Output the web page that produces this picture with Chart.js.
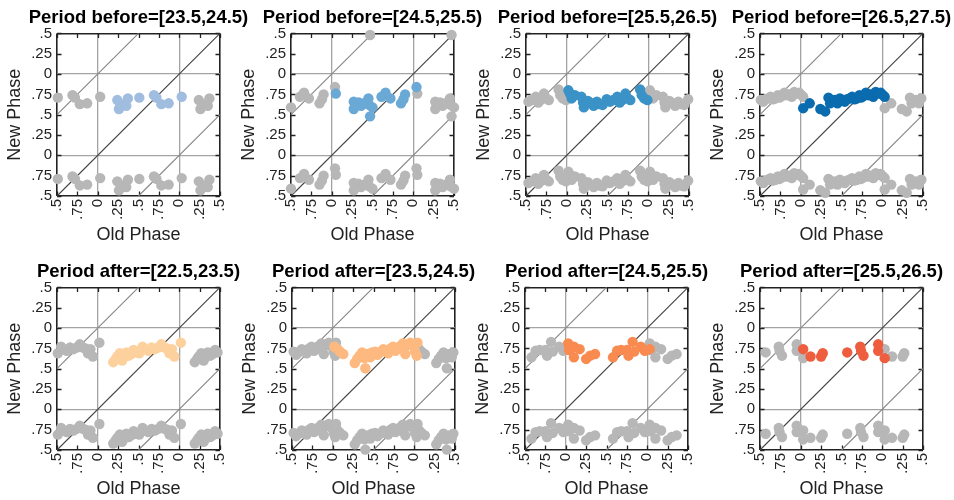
<!DOCTYPE html>
<html>
<head>
<meta charset="utf-8">
<script src="https://cdn.jsdelivr.net/npm/chart.js@4.4.1/dist/chart.umd.min.js"></script>
<style>
html, body { margin: 0; padding: 0; background: #fff; overflow: hidden; width: 954px; height: 500px; }
canvas { position: absolute; }
</style>
</head>
<body>
<script>
// panel titles
const titles = [
  'Period before=[23.5,24.5)', 'Period before=[24.5,25.5)',
  'Period before=[25.5,26.5)', 'Period before=[26.5,27.5)',
  'Period after=[22.5,23.5)', 'Period after=[23.5,24.5)',
  'Period after=[24.5,25.5)', 'Period after=[25.5,26.5)'
];

// [old phase, new phase] for each bin
const before1 = [[0.24,0.68],[0.26,0.57],[0.32,0.63],[0.35,0.61],[0.37,0.70],[0.51,0.71],
  [0.69,0.74],[0.72,0.71],[0.78,0.63],[0.87,0.64],[1.03,0.72]];
const before2 = [[0.05,0.76],[0.27,0.66],[0.27,0.57],[0.33,0.65],[0.36,0.61],[0.40,0.64],
  [0.45,0.70],[0.46,0.62],[0.47,0.48],[0.50,0.59],[0.61,0.72],[0.66,0.77],[0.72,0.70],
  [0.85,0.64],[0.88,0.69],[0.90,0.75],[1.04,0.84]];
const before3 = [[0.02,0.80],[0.04,0.76],[0.06,0.70],[0.10,0.74],[0.18,0.72],[0.20,0.65],
  [0.21,0.59],[0.26,0.67],[0.30,0.64],[0.33,0.61],[0.37,0.66],[0.40,0.63],[0.44,0.62],
  [0.49,0.69],[0.53,0.66],[0.57,0.68],[0.62,0.72],[0.65,0.65],[0.68,0.68],[0.72,0.76],
  [0.75,0.70],[0.78,0.68],[0.90,0.81],[0.92,0.74],[0.95,0.70],[0.99,0.68]];
const before4 = [[0.03,0.58],[0.11,0.64],[0.24,0.57],[0.30,0.54],[0.34,0.71],[0.36,0.64],
  [0.38,0.68],[0.42,0.68],[0.45,0.64],[0.48,0.70],[0.51,0.68],[0.54,0.66],[0.57,0.69],
  [0.60,0.70],[0.63,0.72],[0.66,0.69],[0.69,0.70],[0.72,0.74],[0.74,0.71],[0.77,0.73],
  [0.80,0.77],[0.83,0.74],[0.86,0.75],[0.89,0.72],[0.92,0.78],[0.95,0.76],[0.98,0.77],
  [1.01,0.74],[1.03,0.72]];
const after1 = [[0.19,0.58],[0.22,0.62],[0.24,0.65],[0.27,0.69],[0.30,0.60],[0.32,0.64],
  [0.35,0.70],[0.38,0.66],[0.41,0.68],[0.44,0.73],[0.47,0.70],[0.51,0.69],[0.55,0.77],
  [0.58,0.74],[0.62,0.72],[0.66,0.76],[0.70,0.74],[0.74,0.76],[0.78,0.80],[0.82,0.76],
  [0.85,0.75],[0.88,0.69],[0.91,0.74],[0.94,0.65],[1.02,0.82]];
const after2 = [[0.02,0.77],[0.06,0.74],[0.09,0.71],[0.13,0.68],[0.27,0.57],[0.30,0.62],
  [0.33,0.66],[0.36,0.70],[0.39,0.63],[0.40,0.505],[0.43,0.68],[0.46,0.64],[0.48,0.70],
  [0.52,0.71],[0.55,0.67],[0.58,0.70],[0.62,0.74],[0.65,0.71],[0.68,0.69],[0.71,0.75],
  [0.74,0.77],[0.77,0.72],[0.80,0.74],[0.83,0.78],[0.86,0.81],[0.87,0.75],[0.89,0.68],
  [0.92,0.79],[0.95,0.82],[0.98,0.78],[1.01,0.71],[1.04,0.82],[1.03,0.66]];
const after3 = [[0.03,0.81],[0.04,0.73],[0.10,0.77],[0.10,0.64],[0.17,0.74],[0.25,0.62],
  [0.30,0.66],[0.36,0.68],[0.58,0.64],[0.63,0.72],[0.68,0.73],[0.75,0.73],[0.77,0.66],
  [0.82,0.83],[0.84,0.71],[0.92,0.77],[0.97,0.72],[1.03,0.74]];
const after4 = [[0.03,0.74],[0.12,0.65],[0.25,0.65],[0.27,0.69],[0.57,0.70],[0.73,0.77],
  [0.74,0.72],[0.77,0.66],[0.95,0.80],[0.95,0.72],[1.03,0.63]];

const panels = [before1, before2, before3, before4, after1, after2, after3, after4];
const colors = ['#a0bde0', '#6aa9d6', '#3a92c6', '#0a6cae', '#fdd19e', '#fdb97f', '#f98a50', '#ee5e3e'];
const greyCol = '#b7b7b7';

// phase axis: -0.5 .. 1.5, labelled modulo 1
const phaseTicks = ['.5', '.75', '0', '.25', '.5', '.75', '0', '.25', '.5'];
const phaseMin = -0.5, phaseMax = 1.5;

const lefts = [0, 234, 469, 703, 0, 235, 468, 703];
const tops = [0, 0, 0, 0, 254, 254, 254, 254];
const FONT = "'Liberation Sans', Arial, sans-serif";

// wrapped copies of the points (shifted by one period), drawn in grey
function wrapped(pts) {
  const out = [];
  [-1, 0, 1].forEach(dx => [-1, 0, 1].forEach(dy => {
    if (dx === 0 && dy === 0) return;
    pts.forEach(p => {
      const x = p[0] + dx, y = p[1] + dy;
      if (x >= phaseMin - 0.002 && x <= phaseMax + 0.002 && y >= phaseMin - 0.002 && y <= phaseMax + 0.002)
        out.push({x: x, y: y});
    });
  }));
  return out;
}

function diag(off, col) {
  const x0 = Math.max(phaseMin, phaseMin - off), x1 = Math.min(phaseMax, phaseMax - off);
  return {
    type: 'line', data: [{x: x0, y: x0 + off}, {x: x1, y: x1 + off}],
    borderColor: col, borderWidth: 1.1, pointRadius: 0, fill: false, clip: false
  };
}

const inwardTicks = {
  id: 'inwardTicks',
  beforeDatasetsDraw(chart) {
    const {ctx, chartArea: a, scales} = chart;
    const len = 4.5;
    ctx.save();
    ctx.strokeStyle = '#222';
    ctx.lineWidth = 1.3;
    ctx.beginPath();
    scales.x.ticks.forEach(t => {
      const px = Math.round(scales.x.getPixelForValue(t.value)) + 0.5;
      ctx.moveTo(px, a.bottom); ctx.lineTo(px, a.bottom - len);
      ctx.moveTo(px, a.top); ctx.lineTo(px, a.top + len);
    });
    scales.y.ticks.forEach(t => {
      const py = Math.round(scales.y.getPixelForValue(t.value)) + 0.5;
      ctx.moveTo(a.left, py); ctx.lineTo(a.left + len, py);
      ctx.moveTo(a.right, py); ctx.lineTo(a.right - len, py);
    });
    ctx.stroke();
    ctx.restore();
  }
};

function gridColor(c) {
  const v = c.tick ? c.tick.value : 0;
  if (Math.abs(v - phaseMin) < 1e-6 || Math.abs(v - phaseMax) < 1e-6) return '#222';
  if (Math.abs(v) < 1e-6 || Math.abs(v - 1) < 1e-6) return '#a3a3a3';
  return 'rgba(0,0,0,0)';
}
function gridWidth(c) {
  const v = c.tick ? c.tick.value : 0;
  if (Math.abs(v - phaseMin) < 1e-6 || Math.abs(v - phaseMax) < 1e-6) return 1.6;
  return 1.3;
}

panels.forEach((pts, i) => {
  const cv = document.createElement('canvas');
  cv.width = 277; cv.height = 246;
  cv.style.left = lefts[i] + 'px';
  cv.style.top = tops[i] + 'px';
  document.body.appendChild(cv);

  new Chart(cv.getContext('2d'), {
    type: 'scatter',
    data: {
      datasets: [
        {data: pts.map(p => ({x: p[0], y: p[1]})), backgroundColor: colors[i],
          pointRadius: 5.2, borderWidth: 0, pointHoverRadius: 5.2, clip: false},
        {data: wrapped(pts), backgroundColor: greyCol,
          pointRadius: 5.2, borderWidth: 0, pointHoverRadius: 5.2, clip: false},
        diag(0, '#444444'),
        diag(1, '#858585'),
        diag(-1, '#858585')
      ]
    },
    plugins: [inwardTicks],
    options: {
      responsive: false,
      animation: false,
      layout: {padding: {top: 6.4, right: 0, bottom: 0, left: 0}},
      plugins: {
        legend: {display: false},
        tooltip: {enabled: false},
        title: {
          display: true, text: titles[i], color: '#000',
          font: {family: FONT, size: 18.5, weight: 'bold', lineHeight: 1.2},
          padding: {top: 0, bottom: 4.8}
        }
      },
      scales: {
        x: {
          type: 'linear', min: phaseMin, max: phaseMax,
          afterFit: s => { s.height = 50; },
          ticks: {
            stepSize: 0.25, autoSkip: false, minRotation: 90, maxRotation: 90, padding: 3,
            color: '#222', font: {family: FONT, size: 15},
            callback: (v, idx) => phaseTicks[idx]
          },
          grid: {drawTicks: false, color: gridColor, lineWidth: gridWidth},
          border: {display: false},
          title: {display: true, text: 'Old Phase', color: '#222',
            font: {family: FONT, size: 18, lineHeight: 1.2}, padding: {top: 0, bottom: 0}}
        },
        y: {
          type: 'linear', min: phaseMin, max: phaseMax,
          afterFit: s => { s.width = 57; },
          ticks: {
            stepSize: 0.25, autoSkip: false, padding: 5,
            color: '#222', font: {family: FONT, size: 15},
            callback: (v, idx) => phaseTicks[idx]
          },
          grid: {drawTicks: false, color: gridColor, lineWidth: gridWidth},
          border: {display: false},
          title: {display: true, text: 'New Phase', color: '#222',
            font: {family: FONT, size: 18, lineHeight: 1.2}, padding: {top: 4.5, bottom: 0}}
        },
        // empty right-hand axis keeps the plot centred under its title
        yRight: {
          position: 'right', display: true,
          afterFit: s => { s.width = 57; },
          ticks: {display: false},
          grid: {display: false, drawOnChartArea: false},
          border: {display: false}
        }
      }
    }
  });
});
</script>
</body>
</html>
